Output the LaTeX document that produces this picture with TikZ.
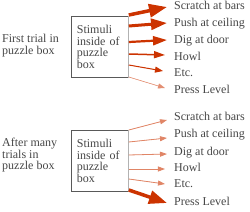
\documentclass[tikz,border=0pt]{standalone}
\usepackage{fontspec}
\setmainfont{Liberation Serif}
\usetikzlibrary{arrows.meta,calc}
\definecolor{arrowred}{RGB}{204,51,0}
\definecolor{txtgray}{RGB}{70,70,70}
\begin{document}
\begin{tikzpicture}[x=1pt,y=-1pt,
  lbl/.style={font=\fontsize{12}{14}\selectfont, text=txtgray, inner sep=0pt, anchor=base west},
  sbox/.style={draw=black!65, line width=0.8pt, minimum width=57pt, minimum height=61pt,
     anchor=north west, align=left, text width=46pt, inner xsep=5.5pt, inner ysep=0pt,
     font=\fontsize{12}{11.7}\selectfont, text=txtgray},
  side/.style={font=\fontsize{12}{11.5}\selectfont, text=txtgray, inner sep=0pt, align=left, anchor=north west},
  ra/.style={draw=arrowred, line width=#1},
]
\useasboundingbox (0,0) rectangle (250,212);

% ---------- top panel ----------
\node[side] (t1) at (2,34) {First trial in\\puzzle box};
\node[sbox] (b1) at (71,16) {Stimuli\\inside of\\puzzle\\box};
\draw[black!30, line width=0.8pt] (b1.north east) -- (b1.south east);

\node[lbl] (a1) at (174,9) {Scratch at bars};
\node[lbl] (a2) at (174,26) {Push at ceiling};
\node[lbl] (a3) at (174,43) {Dig at door};
\node[lbl] (a4) at (174,60) {Howl};
\node[lbl] (a5) at (174,76) {Etc.};
\node[lbl] (a6) at (174,93) {Press Level};

\coordinate (e1) at (167,7);
\coordinate (e2) at (167,23);
\coordinate (e3) at (167,40);
\coordinate (e4) at (165,55);
\coordinate (e5) at (163,71);
\coordinate (e6) at (165,88);

\draw[ra=3.5pt, -{Triangle[length=18pt,width=13pt]}, fill=arrowred] (b1.east |- 0,15) -- (e1);
\draw[ra=3pt, -{Triangle[length=16pt,width=11pt]}, fill=arrowred] (b1.east |- 0,26) -- (e2);
\draw[ra=2.2pt, -{Triangle[length=14pt,width=9pt]}, fill=arrowred] (b1.east |- 0,42) -- (e3);
\draw[ra=1.5pt, -{Triangle[length=11pt,width=7pt]}, fill=arrowred] (b1.east |- 0,54) -- (e4);
\draw[ra=1pt, -{Triangle[length=8pt,width=6pt]}, fill=arrowred] (b1.east |- 0,65) -- (e5);
\draw[ra=0.6pt, draw=arrowred!55, -{Triangle[length=7pt,width=5pt]}, fill=arrowred!55] (b1.east |- 0,77) -- (e6);

% ---------- bottom panel ----------
\node[side] (t2) at (2,138) {After many\\trials in\\puzzle box};
\node[sbox] (b2) at (71,130) {Stimuli\\inside of\\puzzle\\box};
\draw[black!30, line width=0.8pt] (b2.north east) -- (b2.south east);

\node[lbl] (c1) at (174,120) {Scratch at bars};
\node[lbl] (c2) at (174,137) {Push at ceiling};
\node[lbl] (c3) at (174,155) {Dig at door};
\node[lbl] (c4) at (174,171) {Howl};
\node[lbl] (c5) at (174,187) {Etc.};
\node[lbl] (c6) at (174,205) {Press Level};

\coordinate (f1) at (167,120);
\coordinate (f2) at (167,138);
\coordinate (f3) at (167,154);
\coordinate (f4) at (165,169);
\coordinate (f5) at (165,184);
\coordinate (f6) at (167,203);

\draw[ra=0.8pt, draw=arrowred!60, -{Triangle[length=7pt,width=5pt]}, fill=arrowred!60] (b2.east |- 0,130) -- (f1);
\draw[ra=0.8pt, draw=arrowred!60, -{Triangle[length=7pt,width=5pt]}, fill=arrowred!60] (b2.east |- 0,142) -- (f2);
\draw[ra=0.8pt, draw=arrowred!60, -{Triangle[length=7pt,width=5pt]}, fill=arrowred!60] (b2.east |- 0,155) -- (f3);
\draw[ra=0.8pt, draw=arrowred!60, -{Triangle[length=7pt,width=5pt]}, fill=arrowred!60] (b2.east |- 0,169) -- (f4);
\draw[ra=0.8pt, draw=arrowred!60, -{Triangle[length=7pt,width=5pt]}, fill=arrowred!60] (b2.east |- 0,179) -- (f5);
\draw[ra=3.5pt, -{Triangle[length=18pt,width=13pt]}, fill=arrowred] (b2.east |- 0,190) -- (f6);
\end{tikzpicture}
\end{document}
